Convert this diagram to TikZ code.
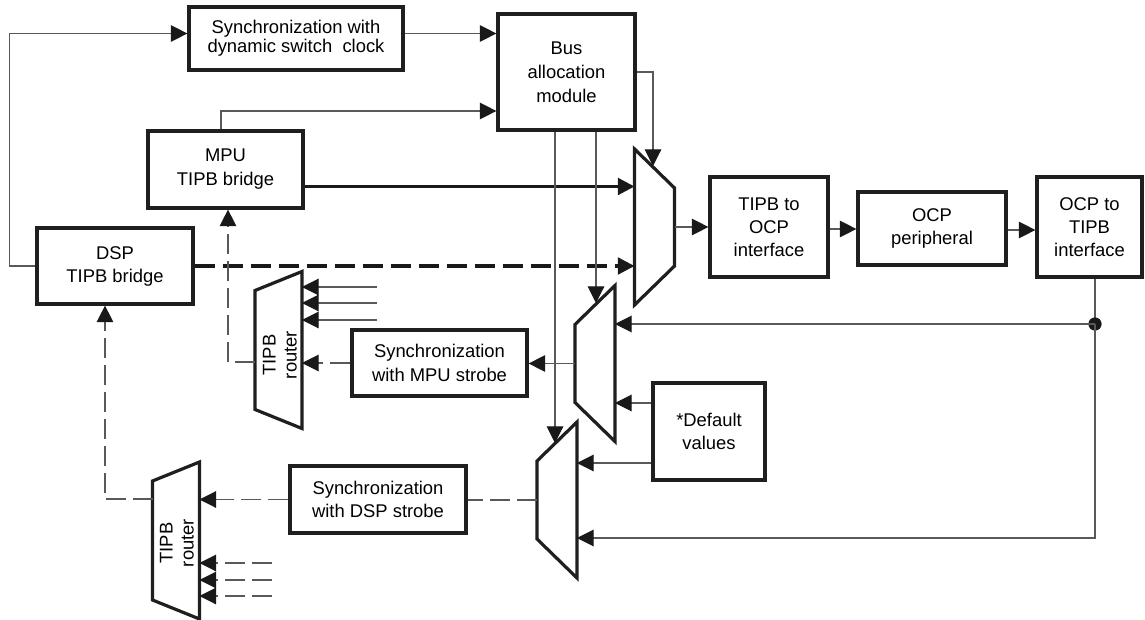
\documentclass[tikz,border=0pt]{standalone}
\usepackage{fontspec}
\setmainfont{Liberation Sans}
\usetikzlibrary{arrows.meta,positioning,calc}

\begin{document}
\begin{tikzpicture}[x=0.5pt,y=-0.5pt,font=\fontsize{9.2}{11.5}\selectfont,
  box/.style={draw=black!88,line width=1.6pt,align=center,inner sep=1pt},
  mux/.style={inner sep=0pt,outer sep=0pt,minimum width=20pt,minimum height=78pt},
  rout/.style={inner sep=0pt,outer sep=0pt,minimum width=23.5pt,minimum height=78.5pt},
  trap/.style={draw=black!88,line width=1.6pt,line join=miter},
  arrowtip/.style={-{Triangle[length=8.3pt,width=8.3pt,color=black!90]}},
  wire/.style={black!65,line width=0.55pt,arrowtip},
  dwire/.style={wire,dash pattern=on 10pt off 3.5pt},
  heavy/.style={black!90,line width=1.6pt,arrowtip},
  dheavy/.style={heavy,dash pattern=on 10pt off 4pt}]
\useasboundingbox (0,0) rectangle (1145,620);
\node[box,minimum width=107pt,minimum height=31.5pt,font=\fontsize{9.2}{9.7}\selectfont] (sync) at (296,38.5) {Synchronization with\\dynamic switch \ clock};
\node[box,minimum width=68.5pt,minimum height=58pt,font=\fontsize{9.2}{12}\selectfont] (alloc) at (566.5,72) {Bus\\allocation\\module};
\node[box,minimum width=77.5pt,minimum height=38.5pt,font=\fontsize{9.2}{12}\selectfont] (mpu) at (225.5,169.5) {MPU\\TIPB bridge};
\node[box,minimum width=78pt,minimum height=38pt] (dsp) at (115,266) {DSP\\TIPB bridge};
\node[box,minimum width=59pt,minimum height=50pt] (tipocp) at (769,227) {TIPB to\\OCP\\interface};
\node[box,minimum width=74pt,minimum height=36.5pt] (ocp) at (932,228.5) {OCP\\peripheral};
\node[box,minimum width=52.5pt,minimum height=50pt] (ocptip) at (1089.5,227) {OCP to\\TIPB\\interface};
\node[box,minimum width=87.5pt,minimum height=33pt,font=\fontsize{9.2}{12}\selectfont] (syncmpu) at (439.5,363) {Synchronization\\with MPU strobe};
\node[box,minimum width=56pt,minimum height=48.5pt] (defval) at (709,431.5) {*Default\\values};
\node[box,minimum width=88pt,minimum height=33.5pt] (syncdsp) at (378,499.5) {Synchronization\\with DSP strobe};
\node[mux] (muxa) at (654.5,227) {};
\node[mux] (muxb) at (595,363.5) {};
\node[mux] (muxc) at (557,500) {};
\node[rout] (routm) at (278.5,350) {};
\node[rout] (routd) at (176,540.5) {};
\node[rotate=90,align=center,font=\fontsize{9.2}{10.5}\selectfont] (routmtxt) at (280,355) {TIPB\\router};
\node[rotate=90,align=center,font=\fontsize{9.2}{10.5}\selectfont] (routdtxt) at (177,543) {TIPB\\router};
\draw[trap] (muxa.north west) -- ([yshift=-19.5pt]muxa.north east) -- ([yshift=19.5pt]muxa.south east) -- (muxa.south west) -- cycle;
\foreach \m/\d in {muxb/19.5pt,muxc/19.5pt,routm/9.5pt,routd/9.5pt}
  \draw[trap] (\m.north east) -- ([yshift=-\d]\m.north west) -- ([yshift=\d]\m.south west) -- (\m.south east) -- cycle;
\draw[wire] (dsp.west) -- ++(-26,0) |- ([yshift=2.5pt]sync.west);
\draw[wire] ([yshift=2.5pt]sync.east) -- ([yshift=2.5pt]sync.east -| alloc.west);
\draw[wire] ([xshift=-2.25pt]mpu.north) |- ([yshift=-19.5pt]alloc.west);
\draw[heavy] ([yshift=-8.5pt]mpu.east) -- ([yshift=-8.5pt]mpu.east -| muxa.west);
\draw[dheavy] (dsp.east) -- (dsp.east -| muxa.west);
\coordinate (sela) at (653,166);
\coordinate (selb) at (596,303);
\coordinate (selc) at (555,443);
\draw[wire] (alloc.east) -| (sela);
\draw[wire] (alloc.south -| selb) -- (selb);
\draw[wire] (alloc.south -| selc) -- (selc);
\draw[wire] (muxa.east) -- (tipocp.west);
\draw[wire] ([yshift=-1pt]tipocp.east) -- ([yshift=-1pt]tipocp.east -| ocp.west);
\draw[wire] ([yshift=-0.75pt]ocp.east) -- ([yshift=-0.75pt]ocp.east -| ocptip.west);
\coordinate (split) at (1095,324);
\draw[wire,-] ([xshift=2.75pt]ocptip.south) -- (split);
\fill[black!90] (split) circle (3.3pt);
\draw[wire] (split) -- (split -| muxb.east);
\draw[wire] (split) |- ([yshift=-19pt]muxc.east);
\draw[wire] ([yshift=14.25pt]defval.west) -- ([yshift=14.25pt]defval.west -| muxb.east);
\draw[wire] ([yshift=-15.75pt]defval.west) -- ([yshift=-15.75pt]defval.west -| muxc.east);
\draw[wire] (muxb.west) -- (muxb.west -| syncmpu.east);
\draw[dwire] (syncmpu.west) -- (syncmpu.west -| routm.east);
\draw[dwire] ([yshift=-6pt]routm.west) -| ([xshift=1.25pt]mpu.south);
\foreach \i/\y in {1/287,2/303,3/320} {
  \coordinate (min\i) at (377,\y);
  \draw[wire] (min\i) -- (min\i -| routm.east);
}
\foreach \i/\y in {1/563,2/580,3/596} {
  \coordinate (din\i) at (272,\y);
  \draw[dwire] (din\i) -- (din\i -| routd.east);
}
\draw[dwire] (syncdsp.west) -- (syncdsp.west -| routd.east);
\draw[dwire,-] (muxc.west) -- (muxc.west -| syncdsp.east);
\draw[dwire] ([yshift=20.75pt]routd.west) -| ([xshift=-5pt]dsp.south);
\end{tikzpicture}
\end{document}
